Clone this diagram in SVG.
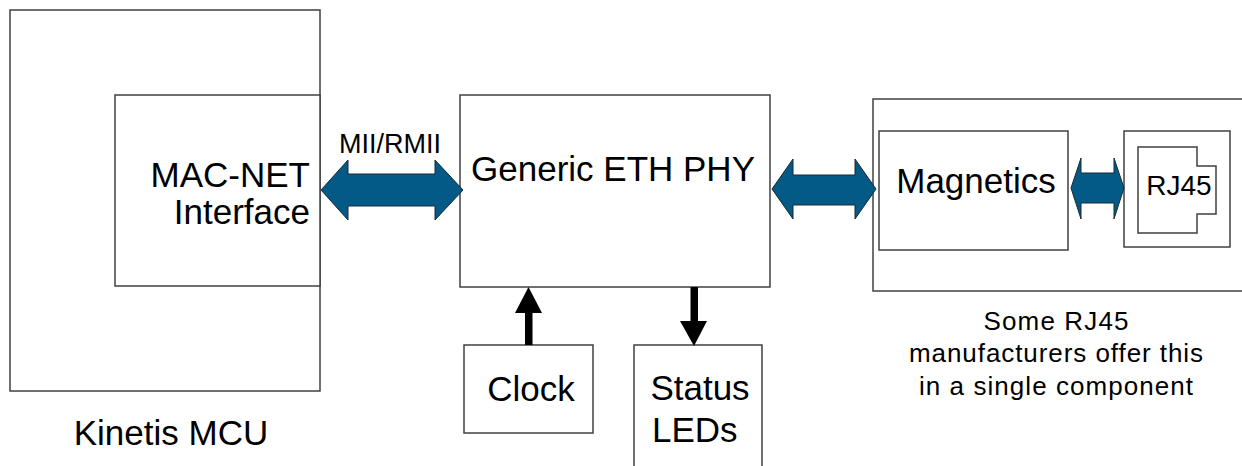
<svg xmlns="http://www.w3.org/2000/svg" width="1242" height="466" viewBox="0 0 1242 466">
<style>
.box{fill:#fff;stroke:#404040;stroke-width:1.5}
.t{font-family:"Liberation Sans",Arial,sans-serif;fill:#000}
.bi{fill:#035a86;stroke:#1a2a33;stroke-width:1}
.blk{fill:#000;stroke:none}
</style>
<rect width="1242" height="466" fill="#fff"/>
<g id="kinetis">
<rect class="box" x="10" y="10" width="310" height="381"/>
<text class="t" x="171" y="445" font-size="35" text-anchor="middle">Kinetis MCU</text>
</g>
<g id="macnet">
<rect class="box" x="115" y="95" width="205" height="191"/>
<text class="t" x="310" y="187" font-size="35" text-anchor="end">MAC-NET</text>
<text class="t" x="310" y="224" font-size="35" text-anchor="end">Interface</text>
</g>
<g id="phy">
<rect class="box" x="460" y="95" width="310" height="192"/>
<text class="t" x="613" y="181" font-size="35" text-anchor="middle">Generic ETH PHY</text>
</g>
<g id="clock">
<rect class="box" x="464" y="345" width="129" height="88"/>
<text class="t" x="531" y="401" font-size="35" text-anchor="middle">Clock</text>
</g>
<g id="status">
<rect class="box" x="634" y="345" width="128" height="130"/>
<text class="t" x="700" y="400" font-size="35" text-anchor="middle">Status</text>
<text class="t" x="652" y="442" font-size="35">LEDs</text>
</g>
<g id="module">
<rect class="box" x="873" y="99" width="380" height="192"/>
</g>
<g id="magnetics">
<rect class="box" x="879" y="131" width="189" height="119"/>
<text class="t" x="976" y="193" font-size="35" text-anchor="middle">Magnetics</text>
</g>
<g id="rj45">
<rect class="box" x="1124" y="131" width="106" height="116"/>
<path d="M1138 147 H1197 V166 H1216 V214 H1197 V233 H1138 Z" fill="none" stroke="#404040" stroke-width="1.5"/>
<text class="t" x="1179" y="195" font-size="28" text-anchor="middle">RJ45</text>
</g>
<g id="caption">
<text class="t" x="1056" y="330" font-size="26" text-anchor="middle" textLength="145" lengthAdjust="spacing">Some RJ45</text>
<text class="t" x="1056" y="362" font-size="26" text-anchor="middle" textLength="294" lengthAdjust="spacing">manufacturers offer this</text>
<text class="t" x="1056" y="395" font-size="26" text-anchor="middle" textLength="274" lengthAdjust="spacing">in a single component</text>
</g>
<g id="connectors">
<path class="bi" d="M321 190 L348 160 V174 H435 V160 L463 190 L435 220 V206 H348 V220 Z"/>
<text class="t" x="390" y="153" font-size="27" text-anchor="middle">MII/RMII</text>
<path class="bi" d="M772 189 L793 159 V175 H855 V159 L876 189 L855 219 V205 H793 V219 Z"/>
<path class="bi" d="M1071 188 L1081 158 V173 H1114 V158 L1124 188 L1114 219 V203 H1081 V219 Z"/>
<rect class="blk" x="525" y="311" width="7.5" height="34"/>
<path class="blk" d="M528.5 287 L542 313 H515 Z"/>
<rect class="blk" x="690.5" y="287" width="7.5" height="35"/>
<path class="blk" d="M680 321 H707 L694 346 Z"/>
</g>
</svg>
